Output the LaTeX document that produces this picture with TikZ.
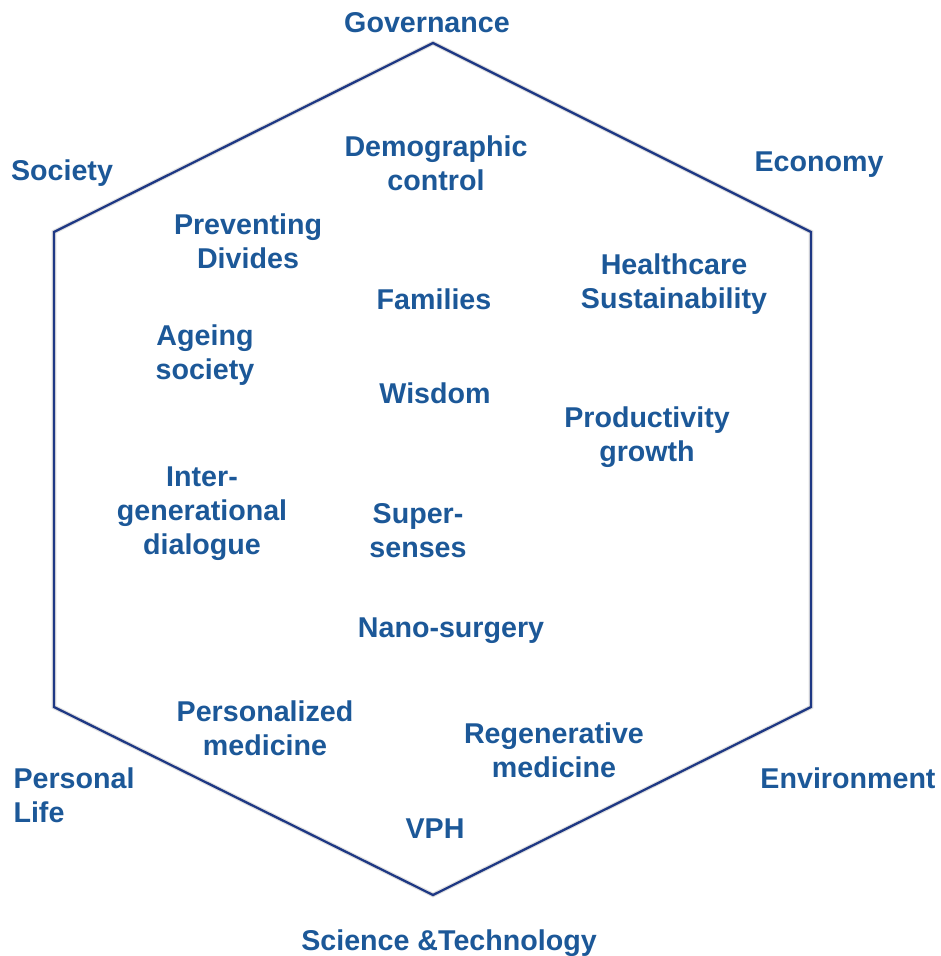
\documentclass[tikz,border=0pt]{standalone}
\usepackage{fontspec}
\setmainfont{Liberation Sans}
\usetikzlibrary{positioning}
\definecolor{labelblue}{RGB}{28,88,152}
\definecolor{hexnavy}{RGB}{30,56,132}

\begin{document}
\begin{tikzpicture}[
    x=0.02cm, y=-0.02cm,
    lbl/.style={text=labelblue, font=\fontsize{16.3}{19.4}\selectfont\bfseries,
                align=center, inner sep=0pt, yshift=-0.06cm},
    hexline/.style={draw=hexnavy, line width=1.3pt, line join=miter},
    hexshadow/.style={draw=black!12, line width=2.6pt, line join=miter}
  ]
  \useasboundingbox (0,0) rectangle (940,956);

  % hexagon corners
  \coordinate (top)  at (433,43);
  \coordinate (ur)   at (811,232);
  \coordinate (lr)   at (811,707);
  \coordinate (bot)  at (433,895);
  \coordinate (ll)   at (54,707);
  \coordinate (ul)   at (54,232);

  \draw[hexshadow, shift={(3,4)}] (top) -- (ur) -- (lr) -- (bot) -- (ll) -- (ul) -- cycle;
  \draw[hexline] (top) -- (ur) -- (lr) -- (bot) -- (ll) -- (ul) -- cycle;

  % outer labels
  \node (gov)   [lbl] at (427,20)  {Governance};
  \node (soc)   [lbl] at (62,170)  {Society};
  \node (econ)  [lbl] at (819,162) {Economy};
  \node (pers)  [lbl, align=left] at (74,792) {Personal\\Life};
  \node (env)   [lbl] at (848,775) {Environment};
  \node (sci)   [lbl] at (449,940) {Science \&Technology};

  % inner labels
  \node (demo)  [lbl] at (436,160) {Demographic\\control};
  \node (prev)  [lbl] at (248,238) {Preventing\\Divides};
  \node (fam)   [lbl] at (434,296) {Families};
  \node (health)[lbl] at (674,281) {Healthcare\\Sustainability};
  \node (age)   [lbl] at (205,352) {Ageing\\society};
  \node (wis)   [lbl] at (435,390) {Wisdom};
  \node (prod)  [lbl] at (647,434) {Productivity\\growth};
  \node (inter) [lbl] at (202,511) {Inter-\\generational\\dialogue};
  \node (super) [lbl] at (418,528) {Super-\\senses};
  \node (nano)  [lbl] at (451,628) {Nano-surgery};
  \node (pmed)  [lbl] at (265,725) {Personalized\\medicine};
  \node (rmed)  [lbl] at (554,747) {Regenerative\\medicine};
  \node (vph)   [lbl] at (435,826) {VPH};
\end{tikzpicture}
\end{document}
